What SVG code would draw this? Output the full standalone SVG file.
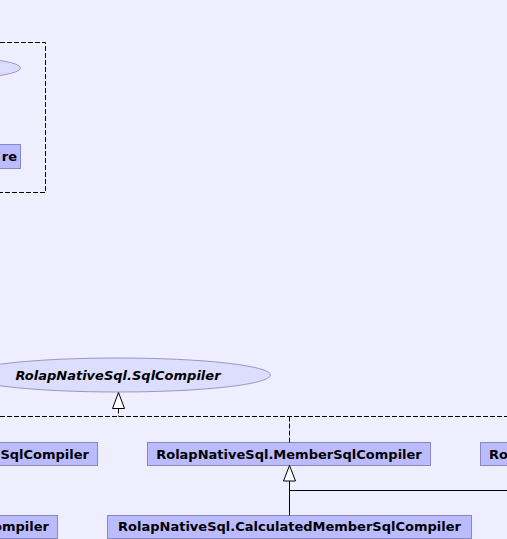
<svg xmlns="http://www.w3.org/2000/svg" width="507" height="539" viewBox="0 0 507 539">
<style>
.bg{fill:#EEEEFF}
.box{fill:#BBBBFF;stroke:#8888BB;stroke-width:1}
.ell{fill:#DDDDFF;stroke:#9999BB;stroke-width:1}
.t{font-family:"DejaVu Sans",sans-serif;font-size:13px;font-weight:bold;fill:#000}
.ti{font-style:italic}
.dash{fill:none;stroke:#000;stroke-width:1;stroke-dasharray:5,2}
.solid{fill:none;stroke:#000;stroke-width:1}
.head{fill:#FFFFFF;stroke:#000;stroke-width:1}
</style>
<rect class="bg" x="0" y="0" width="507" height="539"/>
<g id="cluster">
<polyline class="dash" points="0,42.5 45.5,42.5 45.5,192.5 0,192.5"/>
</g>
<g id="node_top_ellipse">
<ellipse class="ell" cx="-40" cy="68" rx="60.5" ry="10"/>
</g>
<g id="node_re">
<rect class="box" x="-20" y="144.5" width="40.5" height="24"/>
<text class="t" x="17" y="161" text-anchor="end">re</text>
</g>
<g id="node_sqlcompiler">
<ellipse class="ell" cx="118" cy="375" rx="152.5" ry="17"/>
<text class="t ti" x="118" y="379.5" text-anchor="middle">RolapNativeSql.SqlCompiler</text>
</g>
<g id="node_left1">
<rect class="box" x="-20" y="442.5" width="117.5" height="23"/>
<text class="t" x="89" y="458.5" text-anchor="end">SqlCompiler</text>
</g>
<g id="node_member">
<rect class="box" x="147.5" y="442.5" width="283" height="23"/>
<text class="t" x="289" y="458.5" text-anchor="middle">RolapNativeSql.MemberSqlCompiler</text>
</g>
<g id="node_right1">
<rect class="box" x="480.5" y="442.5" width="40" height="23"/>
<text class="t" x="489" y="458.5">Ro</text>
</g>
<g id="node_left2">
<rect class="box" x="-20" y="515.5" width="77.5" height="23"/>
<text class="t" x="49" y="531" text-anchor="end">ompiler</text>
</g>
<g id="node_calculated">
<rect class="box" x="107.5" y="515.5" width="364" height="23"/>
<text class="t" x="289.5" y="531" text-anchor="middle">RolapNativeSql.CalculatedMemberSqlCompiler</text>
</g>
<g id="connectors">
<line class="dash" x1="0" y1="416.5" x2="507" y2="416.5"/>
<line class="dash" x1="118.5" y1="408.5" x2="118.5" y2="416.5"/>
<polygon class="head" points="118.5,392.5 112.5,408.5 124.5,408.5"/>
<line class="dash" x1="289.5" y1="416.5" x2="289.5" y2="442.5"/>
<line class="solid" x1="289.5" y1="481" x2="289.5" y2="515.5"/>
<line class="solid" x1="289.5" y1="490.5" x2="507" y2="490.5"/>
<polygon class="head" points="289.5,465.5 283.5,481 295.5,481"/>
</g>
</svg>
